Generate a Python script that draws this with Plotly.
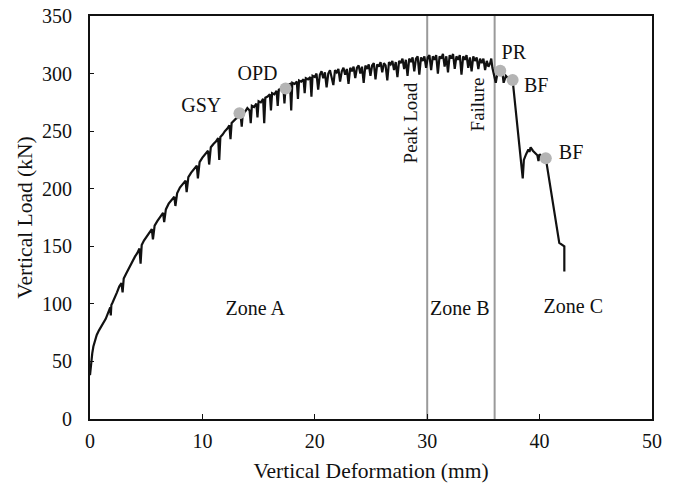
import plotly.graph_objects as go

# load-deformation record, split by stretch of the curve
defo_early = [0, 0.05, 0.1, 0.2, 0.3, 0.45, 0.6, 0.8, 1.0, 1.2, 1.4, 1.6, 1.8, 1.85, 1.9, 2.0, 2.2, 2.4,
              2.6, 2.8, 2.9, 2.95, 3.0, 3.2, 3.4, 3.6, 3.8, 4.0, 4.2, 4.4, 4.5, 4.55, 4.6, 4.8, 5.0]
load_early = [38, 44, 50, 57, 63, 68, 73, 77, 80, 83, 87, 92, 97, 90, 99, 101, 105, 110,
              115, 118, 110, 121, 122, 126, 130, 134, 137, 141, 144, 148, 135, 150, 151, 155, 158]

defo_rise = [5.25, 5.5, 5.6, 5.75, 6.0, 6.25, 6.5, 6.6, 6.75, 7.0, 7.25, 7.5, 7.6, 7.75, 8.0, 8.25, 8.5,
             8.6, 8.75, 9.0, 9.25, 9.5, 9.6, 9.75, 10.0, 10.25, 10.5, 10.6, 10.75, 11.0, 11.2, 11.4, 11.5,
             11.6, 11.8, 12.0, 12.2, 12.4, 12.5, 12.6, 12.8, 13.0, 13.2, 13.4, 13.5, 13.6, 13.8]
load_rise = [162, 165, 156, 168, 172, 175, 179, 171, 182, 187, 190, 193, 185, 196, 201, 204, 207,
             197, 210, 214, 217, 220, 209, 223, 227, 230, 233, 221, 236, 239, 241, 244, 225,
             245, 247, 250, 252, 255, 243, 257, 259, 261, 262, 264, 254, 266, 267]

defo_knee = [14.0, 14.2, 14.3, 14.4, 14.6, 14.8, 14.9, 15.0, 15.2, 15.4, 15.5, 15.6, 15.8, 16.0, 16.1,
             16.2, 16.4, 16.6, 16.7, 16.8, 17.0, 17.2, 17.3, 17.4, 17.6, 17.8, 17.9, 18.0, 18.2, 18.4,
             18.5, 18.6, 18.8, 19.0, 19.1, 19.2, 19.4, 19.6, 19.7, 19.8]
load_knee = [270, 268, 257, 272, 271, 274, 262, 276, 275, 278, 257, 279, 280, 282, 268,
             283, 282, 285, 272, 286, 287, 289, 274, 288, 290, 291, 268, 292, 291, 293,
             278, 294, 293, 295, 283, 296, 295, 297, 280, 298]

defo_plateau = [20.0, 20.15, 20.3, 20.45, 20.6, 20.75, 20.9, 21.05, 21.2, 21.35, 21.5, 21.65, 21.8,
                21.95, 22.1, 22.25, 22.4, 22.55, 22.7, 22.85, 23.0, 23.15, 23.3, 23.45, 23.6, 23.75,
                23.9, 24.05, 24.2, 24.35, 24.5, 24.65, 24.8, 24.95, 25.1, 25.25, 25.4, 25.55, 25.7,
                25.85, 26.0, 26.15, 26.3, 26.45, 26.6, 26.75, 26.9, 27.05, 27.2, 27.35, 27.5, 27.65,
                27.8, 27.95, 28.1, 28.25, 28.4, 28.55, 28.7, 28.85, 29.0, 29.15, 29.3, 29.45, 29.6,
                29.75, 29.9]
load_plateau = [297, 300, 286, 299, 302, 296, 301, 288, 300, 303, 297, 290, 303,
                301, 304, 293, 302, 305, 299, 304, 291, 305, 302, 306, 296, 305,
                307, 300, 306, 292, 307, 304, 308, 298, 307, 309, 295, 308, 306,
                310, 301, 309, 307, 294, 310, 308, 311, 303, 310, 297, 311, 309,
                313, 304, 312, 298, 313, 310, 314, 302, 313, 315, 299, 314, 311,
                315, 305]

defo_peak = [30.05, 30.2, 30.35, 30.5, 30.65, 30.8, 30.95, 31.1, 31.25, 31.4, 31.55, 31.7, 31.85, 32.0,
             32.15, 32.3, 32.45, 32.6, 32.75, 32.9, 33.05, 33.2, 33.35, 33.5, 33.65, 33.8, 33.95, 34.1,
             34.25, 34.4, 34.55, 34.7, 34.85, 35.0, 35.15, 35.3, 35.45, 35.6, 35.7, 35.8, 35.9]
load_peak = [314, 316, 303, 315, 312, 316, 300, 315, 313, 317, 306, 315, 301, 316,
             313, 317, 304, 315, 312, 316, 299, 315, 312, 316, 305, 314, 302, 315,
             311, 314, 304, 313, 309, 313, 303, 311, 306, 309, 313, 305, 300]

defo_post = [36.0, 36.1, 36.3, 36.5, 36.7, 36.8, 37.0, 37.2, 37.4, 37.6,
             38.5, 38.6, 38.8, 39.0, 39.1, 39.2, 39.4, 39.6, 39.8, 39.9, 40.0, 40.3, 40.55,
             41.75, 42.0, 42.2, 42.2]
load_post = [298, 292, 303, 302, 300, 292, 298, 296, 295, 294.5,
             209, 225, 230, 234, 232, 236, 233, 231, 229, 224, 230, 227, 226.5,
             153, 151, 150, 128]

deformation = defo_early + defo_rise + defo_knee + defo_plateau + defo_peak + defo_post
load = load_early + load_rise + load_knee + load_plateau + load_peak + load_post
assert len(deformation) == len(load)

# marked events
event_x = [13.3, 17.4, 36.5, 37.6, 40.55]
event_y = [265.5, 287, 302.5, 294.5, 226.5]
event_labels = ["GSY", "OPD", "PR", "BF", "BF"]
label_x = [9.9, 14.9, 37.7, 39.7, 42.8]
label_y = [271, 299, 317, 288, 230]

zone_labels = ["Zone A", "Zone B", "Zone C"]
zone_x = [14.7, 32.9, 43.0]
zone_y = [95, 95, 96]

boundary_x = [30, 36]
boundary_labels = ["Peak Load", "Failure"]
boundary_label_x = [28.5, 34.5]
boundary_label_y = [257, 273]

font = "Liberation Serif, Times New Roman, serif"
ink = "#111111"

fig = go.Figure()
for bx in boundary_x:
    fig.add_trace(go.Scatter(x=[bx, bx], y=[0, 350], mode="lines",
                             line=dict(color="#9a9a9a", width=2), hoverinfo="skip"))
fig.add_trace(go.Scatter(x=deformation, y=load, mode="lines",
                         line=dict(color=ink, width=2.2)))
fig.add_trace(go.Scatter(x=event_x, y=event_y, mode="markers",
                         marker=dict(color="#b4b4b4", size=12)))
fig.add_trace(go.Scatter(x=label_x, y=label_y, mode="text", text=event_labels,
                         textfont=dict(family=font, size=20, color=ink)))
fig.add_trace(go.Scatter(x=zone_x, y=zone_y, mode="text", text=zone_labels,
                         textfont=dict(family=font, size=20, color=ink)))

for lx, ly, txt in zip(boundary_label_x, boundary_label_y, boundary_labels):
    fig.add_annotation(x=lx, y=ly, text=txt, textangle=-90, showarrow=False,
                       font=dict(family=font, size=19, color=ink))

fig.update_layout(
    width=675, height=483,
    margin=dict(l=90, r=23, t=16, b=64),
    plot_bgcolor="white", paper_bgcolor="white",
    showlegend=False,
    font=dict(family=font, size=20, color=ink),
)
title_font = dict(family=font, size=21.5, color=ink)
fig.update_xaxes(range=[0, 50], dtick=10, showgrid=False, zeroline=False, automargin=False,
                 showline=True, linecolor=ink, linewidth=2, mirror=True,
                 ticks="inside", ticklen=5, tickcolor=ink, ticklabelstandoff=3,
                 title=dict(text="Vertical Deformation (mm)", standoff=15, font=title_font))
fig.update_yaxes(range=[0, 350], dtick=50, showgrid=False, zeroline=False, automargin=False,
                 showline=True, linecolor=ink, linewidth=2, mirror=True,
                 ticks="inside", ticklen=4, tickcolor=ink, ticklabelstandoff=12,
                 title=dict(text="Vertical Load (kN)", standoff=3, font=title_font))

# drop the browser's default body margin so the figure sits at the page corner
fig.write_html("out.html", config={"displayModeBar": False},
               post_script="document.body.style.margin='0';")
